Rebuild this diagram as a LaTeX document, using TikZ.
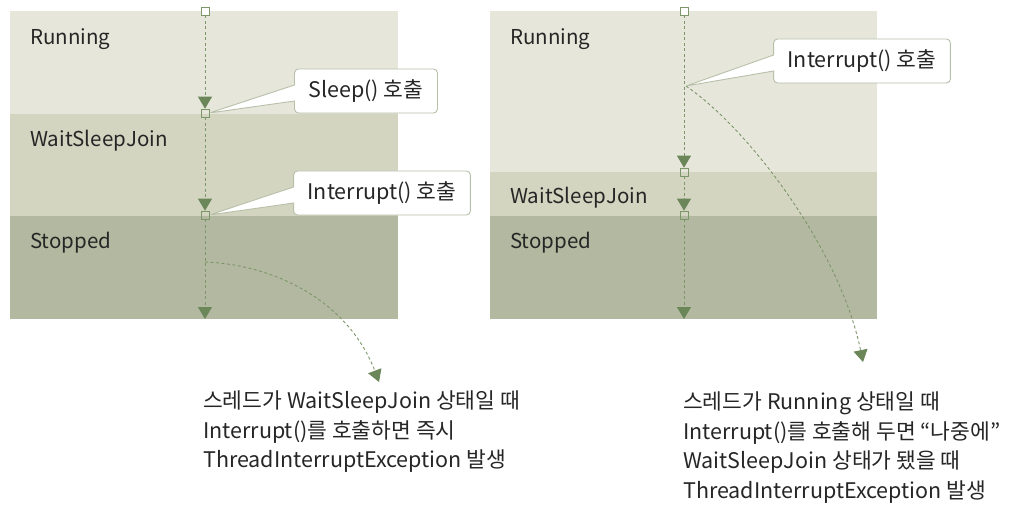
\documentclass[tikz,border=0pt]{standalone}
\usepackage{fontspec}
\setmainfont{Noto Sans CJK KR}
\usetikzlibrary{arrows.meta,shapes.callouts}
\definecolor{bandrun}{HTML}{E6E6DA}
\definecolor{bandwait}{HTML}{D3D5C0}
\definecolor{bandstop}{HTML}{B3B9A0}
\definecolor{flowline}{HTML}{7C9569}
\definecolor{flowtip}{HTML}{6B8659}
\definecolor{boxline}{HTML}{B7C0A8}
\definecolor{inktext}{HTML}{262626}

\begin{document}
\begin{tikzpicture}[x=1pt,y=-1pt,
        font=\fontsize{21.5}{29.5}\selectfont, text=inktext,
        state/.style={anchor=base west,inner sep=0pt,font=\fontsize{20.5}{24}\selectfont},
        tickbox/.style={draw=flowline,minimum size=8pt,inner sep=0pt,line width=0.7pt},
        flow/.style={draw=flowline,dash pattern=on 3pt off 2.5pt,line width=0.9pt,
            -{Triangle[width=14pt,length=12pt,color=flowtip]}},
        say/.style={rectangle callout,draw=boxline,fill=white,rounded corners=4pt,
            inner xsep=14pt,minimum height=44pt,callout pointer width=16pt,line width=0.9pt},
        note/.style={anchor=north west,align=left,inner sep=0pt}]
            \useasboundingbox (0,0) rectangle (1016,510);

            % left panel
            \fill[bandrun] (10,11) rectangle (398,114);
            \fill[bandwait] (10,114) rectangle (398,216);
            \fill[bandstop] (10,216) rectangle (398,319);

            \node[state] (lrun) at (30,45) {Running};
            \node[state] (lwait) at (30,147) {WaitSleepJoin};
            \node[state] (lstop) at (30,249) {Stopped};

            \node[tickbox,fill=white] (lt0) at (205,11) {};
            \node[tickbox] (lt1) at (205,113) {};
            \node[tickbox] (lt2) at (205,215) {};
            \coordinate (lend) at (205,319);
            \coordinate (lbend) at (205,262);
            \coordinate (ltip) at (379,382);

            \path [flow] (lt0) edge (lt1);
            \path [flow] (lt1) edge (lt2);
            \path [flow] (lt2) edge (lend);

            \node[say,callout absolute pointer={(lt1.east)}] (lsleep) at (366,91) {Sleep() 호출};
            \node[say,callout absolute pointer={(lt2.east)}] (lintr) at (382,193) {Interrupt() 호출};

            \draw [flow] (lbend) .. controls (280,265) and (350,305) .. (ltip);

            \node[note] (lnote) at (203,391) {스레드가 WaitSleepJoin 상태일 때\\Interrupt()를 호출하면 즉시\\ThreadInterruptException 발생};

            % right panel
            \fill[bandrun] (490,11) rectangle (877,172);
            \fill[bandwait] (490,172) rectangle (877,216);
            \fill[bandstop] (490,216) rectangle (877,319);

            \node[state] (rrun) at (510,45) {Running};
            \node[state] (rwait) at (510,204) {WaitSleepJoin};
            \node[state] (rstop) at (510,249) {Stopped};

            \node[tickbox,fill=white] (rt0) at (684,11) {};
            \node[tickbox] (rt1) at (684,172) {};
            \node[tickbox] (rt2) at (684,215) {};
            \coordinate (rend) at (684,319);
            \coordinate (rcall) at (686,86);
            \coordinate (rtip) at (863,362);

            \path [flow] (rt0) edge (rt1);
            \path [flow] (rt1) edge (rt2);
            \path [flow] (rt2) edge (rend);

            \node[say,callout absolute pointer={(rcall)}] (rintr) at (862,61) {Interrupt() 호출};

            \draw [flow] (rcall) .. controls (750,130) and (840,250) .. (rtip);

            \node[note] (rnote) at (683,392) {스레드가 Running 상태일 때\\Interrupt()를 호출해 두면 “나중에”\\WaitSleepJoin 상태가 됐을 때\\ThreadInterruptException 발생};
\end{tikzpicture}
\end{document}
